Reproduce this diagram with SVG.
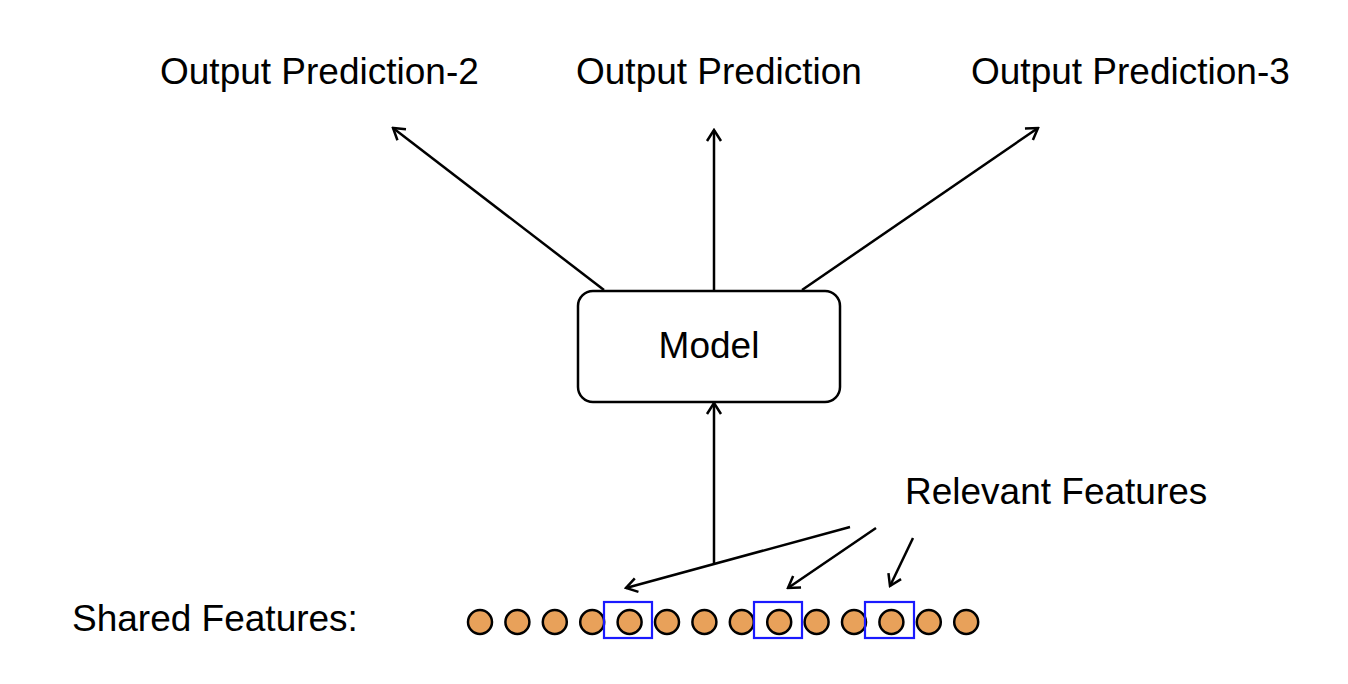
<svg xmlns="http://www.w3.org/2000/svg" width="1348" height="684" viewBox="0 0 1348 684">
<style>
text{font-family:"Liberation Sans",Arial,sans-serif;font-size:37px;fill:#000}
.edge{stroke:#000;stroke-width:2.5;fill:none}
.dot{fill:#E8A15A;stroke:#000;stroke-width:2.5}
.sel{fill:none;stroke:#1a1aff;stroke-width:2.2}
</style>
<defs>
<marker id="arr" viewBox="-13 -9 15 18" refX="0" refY="0" markerWidth="15" markerHeight="18" markerUnits="userSpaceOnUse" orient="auto">
<path d="M-11,-7 L0,0 L-11,7" fill="none" stroke="#000" stroke-width="2.5"/>
</marker>
</defs>
<rect width="1348" height="684" fill="#fff"/>
<g id="connectors">
<line class="edge" x1="604" y1="290" x2="393" y2="128" marker-end="url(#arr)"/>
<line class="edge" x1="714" y1="290" x2="714" y2="130" marker-end="url(#arr)"/>
<line class="edge" x1="802" y1="290" x2="1038" y2="128" marker-end="url(#arr)"/>
<line class="edge" x1="714" y1="563" x2="714" y2="403" marker-end="url(#arr)"/>
<line class="edge" x1="850" y1="527" x2="626" y2="588" marker-end="url(#arr)"/>
<line class="edge" x1="876" y1="528" x2="788" y2="588" marker-end="url(#arr)"/>
<line class="edge" x1="913" y1="538" x2="890" y2="586" marker-end="url(#arr)"/>
</g>
<g id="model">
<rect x="578" y="291" width="262" height="111" rx="15" fill="#fff" stroke="#000" stroke-width="2.5"/>
<text x="709" y="358" text-anchor="middle">Model</text>
</g>
<g id="out2"><text x="160" y="84">Output Prediction-2</text></g>
<g id="out1"><text x="576" y="84">Output Prediction</text></g>
<g id="out3"><text x="971" y="84">Output Prediction-3</text></g>
<g id="relevant"><text x="905" y="504">Relevant Features</text></g>
<g id="shared">
<text x="72" y="631">Shared Features:</text>
<circle class="dot" cx="480" cy="622" r="12"/>
<circle class="dot" cx="517.4" cy="622" r="12"/>
<circle class="dot" cx="554.8" cy="622" r="12"/>
<circle class="dot" cx="592.2" cy="622" r="12"/>
<circle class="dot" cx="629.6" cy="622" r="12"/>
<circle class="dot" cx="667" cy="622" r="12"/>
<circle class="dot" cx="704.4" cy="622" r="12"/>
<circle class="dot" cx="741.8" cy="622" r="12"/>
<circle class="dot" cx="779.2" cy="622" r="12"/>
<circle class="dot" cx="816.6" cy="622" r="12"/>
<circle class="dot" cx="854" cy="622" r="12"/>
<circle class="dot" cx="891.4" cy="622" r="12"/>
<circle class="dot" cx="928.8" cy="622" r="12"/>
<circle class="dot" cx="966.2" cy="622" r="12"/>
<rect class="sel" x="604" y="602" width="48" height="36"/>
<rect class="sel" x="754" y="602" width="48" height="36"/>
<rect class="sel" x="865" y="602" width="49" height="36"/>
</g>
</svg>
